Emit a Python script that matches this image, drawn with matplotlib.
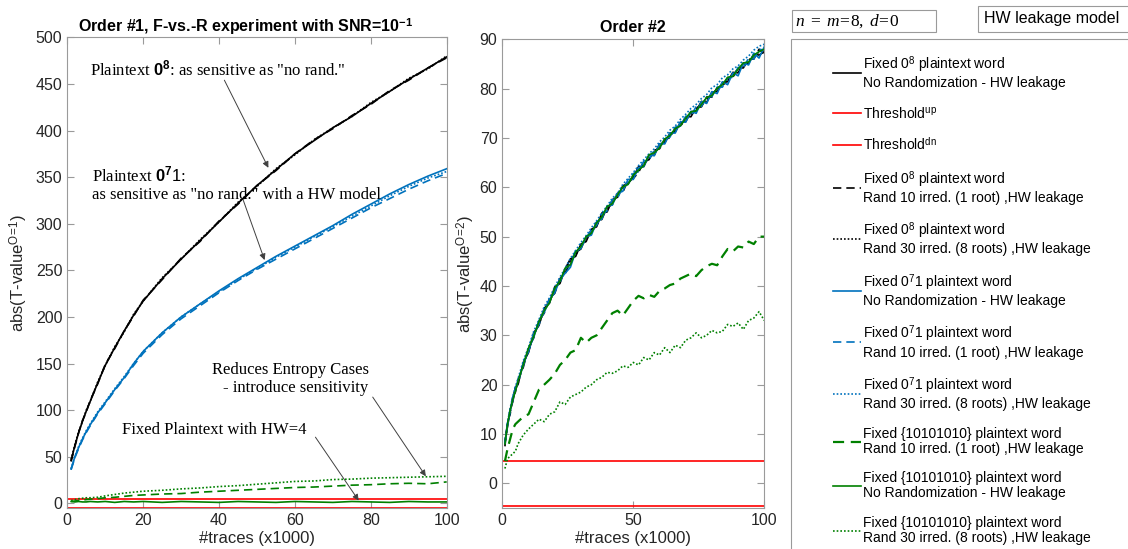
import matplotlib
matplotlib.use("Agg")
import matplotlib.pyplot as plt
from matplotlib.patches import Rectangle

plt.rcParams['font.family'] = ['Liberation Sans', 'DejaVu Sans']
plt.rcParams['mathtext.fontset'] = 'custom'
plt.rcParams['mathtext.rm'] = 'Liberation Serif'
plt.rcParams['mathtext.it'] = 'Liberation Serif:italic'
plt.rcParams['mathtext.bf'] = 'Liberation Sans:bold'
plt.rcParams['mathtext.sf'] = 'Liberation Sans'

# ---- data: order 1 (left panel) ----
o1_x = [1, 2, 3, 4, 5, 6, 8, 10, 12.5, 15, 17.5, 20, 25, 30, 35, 40, 45, 50, 55, 60, 65, 70, 75, 80, 85, 90, 95, 100]
o1_black = [46, 62, 76, 88, 99, 109, 129, 148, 167, 185, 202, 217, 241, 262, 282, 302, 322, 341, 358, 375, 389, 403, 415, 429, 442, 455, 467, 479]
o1_black_dash = [45, 61, 76, 89, 98, 110, 128, 149, 166, 185, 201, 218, 240, 263, 281, 303, 321, 341, 357, 375, 390, 402, 416, 428, 443, 454, 467, 478]
o1_black_dot = [47, 63, 77, 88, 100, 109, 130, 148, 168, 184, 203, 217, 242, 262, 283, 302, 323, 340, 359, 374, 390, 403, 415, 430, 442, 456, 466, 480]
o1_blue = [37, 50, 60, 69, 77, 84, 97, 108, 122, 135, 150, 163, 183, 200, 214, 228, 241, 253, 265, 276, 287, 298, 310, 321, 332, 342, 351, 359]
o1_blue_dash = [36, 49, 59, 68, 76, 83, 96, 107, 121, 134, 148, 161, 181, 198, 212, 226, 239, 251, 262, 273, 284, 295, 306, 317, 327, 337, 346, 354]
o1_blue_dot = [37, 50, 61, 70, 78, 85, 98, 109, 123, 136, 150, 163, 183, 200, 214, 227, 240, 252, 264, 275, 286, 297, 308, 319, 330, 340, 349, 356]
o1_green_dash = [2, 2.5, 3, 3.5, 4, 4.5, 5, 6, 6.5, 7.5, 8.5, 9, 10, 10.5, 12, 13, 14, 15, 16, 17, 17.5, 18.5, 19.5, 20, 21, 21.5, 21, 23]
o1_green = [2, 1.5, 2, 1.5, 1.5, 2, 1.5, 2, 1, 2, 1.5, 2, 1, 2, 1.5, 1, 2, 1.5, 1, 2, 1.5, 1, 2, 1.5, 1, 2, 1.5, 1.5]
o1_green_dot = [3, 4, 5, 5.5, 6, 6, 6.5, 8, 9.5, 11, 12, 13, 14, 15.5, 16.5, 18, 19, 20.5, 22, 23.5, 24, 25.5, 26, 27, 27.5, 28, 28.5, 29]

thr_x = [0, 100]
thr_up = [4.5, 4.5]
thr_dn = [-4.5, -4.5]

# ---- data: order 2 (right panel) ----
o2_x = [1, 2, 3, 4, 5, 6, 8, 10, 12, 14, 16, 18, 20, 22, 24, 26, 28, 30, 32, 34, 36, 38, 40, 42, 44, 46, 48, 50,
        52, 54, 56, 58, 60, 62, 64, 66, 68, 70, 72, 74, 76, 78, 80, 82, 84, 86, 88, 90, 92, 94, 96, 98, 100]
o2_black = [8.5, 11.5, 15, 16.5, 19.5, 20, 24.5, 26.5, 30.5, 32, 35.5, 36.5, 39.8, 40.5, 43.5, 45.5, 46, 48.5, 49, 51.5,
            52, 54.8, 55, 57.5, 58, 60.3, 60.8, 62, 64.2, 64.2, 66.5, 66.5, 68.8, 69, 71, 71.2, 73.2, 73.3, 75.3, 75.5,
            77.4, 77.2, 79.3, 79.4, 81.2, 81.4, 83.3, 83.2, 85.2, 85.1, 87, 86.8, 87.5]
o2_black_dash = [7.5, 12.5, 14, 17.5, 18.5, 21, 23.5, 27.5, 29.5, 33, 34.5, 37.5, 38.5, 41.5, 42.5, 45, 46.8, 47.5, 50,
                 50.5, 53, 53.5, 56, 56.5, 58.8, 59, 61.5, 61.8, 63, 65.2, 65.6, 67.5, 67.8, 69.8, 70, 72, 72.3, 74.3,
                 74.3, 76.2, 76.3, 78.3, 78.3, 80.2, 80.3, 82.2, 82.3, 84.2, 84.2, 86, 86, 88, 87]
o2_black_dot = [8, 12.3, 14.3, 17.2, 19.2, 20.3, 24.2, 26.8, 30.2, 32.3, 35.2, 36.8, 39.2, 41.2, 42.8, 45, 46.3, 48.2,
                49.3, 51.2, 52.3, 54.2, 55.3, 57.2, 58.1, 59.8, 60.8, 62.4, 63.3, 64.9, 65.8, 67.2, 68, 69.6, 70.3, 71.8,
                72.5, 74, 74.6, 76, 76.6, 78, 78.6, 80, 80.6, 82, 82.6, 84, 84.5, 85.8, 86.3, 87.5, 87.8]
o2_blue = [8.2, 11.8, 14.5, 17.5, 18.8, 21, 23.8, 27.2, 29.6, 33, 34.6, 37.3, 38.6, 41.3, 42.6, 43.8, 47, 47.6, 50,
           50.3, 53, 53.6, 56.2, 56.4, 58.8, 59.2, 61.6, 61.6, 64, 64.2, 66.6, 66.4, 68.8, 68.8, 71, 71, 73.3, 73.2,
           75.4, 75, 77.4, 77, 79.4, 79, 81.4, 80.8, 83.2, 82.6, 85.2, 84.8, 87.2, 86.2, 88.5]
o2_blue_dash = [8, 12.2, 14.8, 16.8, 19.3, 20.3, 24.3, 26.7, 30.4, 32.2, 35.3, 36.7, 39.4, 40.7, 43.4, 44.4, 47.2, 47.8,
                49.8, 51.3, 52.3, 54.6, 55.2, 57.5, 57.8, 60.2, 60.6, 62.8, 63.2, 65.3, 65.6, 67.5, 68, 69.8, 70.2, 72.2,
                72.4, 74.4, 74.4, 76.4, 76.4, 78.4, 78.4, 80.3, 80.3, 82.2, 82.3, 84.3, 84.2, 86.2, 86, 88, 87.8]
o2_blue_dot = [8.3, 12.4, 15.2, 17.6, 19.6, 21.2, 24.8, 27.6, 30.8, 33.2, 35.8, 37.6, 39.8, 41.8, 43.6, 45.6, 47.2, 48.8,
               50.2, 51.8, 53.2, 54.8, 56.2, 57.8, 58.8, 60.6, 61.8, 63, 64.4, 65.6, 66.8, 67.8, 69.2, 70.2, 71.6, 72.4,
               73.8, 74.8, 76, 76.8, 78, 78.8, 80.2, 80.8, 82.2, 82.8, 84, 84.6, 85.8, 86.6, 87.8, 88.6, 89]
o2_green = [8, 12, 14.8, 17, 18.7, 20.7, 24, 27.4, 29.8, 32.8, 35, 36.6, 39.5, 41, 43.6, 44.3, 46.9, 48, 50, 50.7, 52.8,
            54, 56.1, 56.7, 58.5, 60.1, 60.6, 62.5, 63.5, 64.4, 66.6, 67, 68, 69.8, 70.5, 71.9, 72.5, 74, 75.3, 75.5,
            76.8, 78.2, 78.6, 80.1, 80.8, 82.3, 82.5, 84, 85.2, 85.4, 86.8, 87.5, 88]
o2_green_dash = [4.5, 7, 9, 11, 12, 12.5, 13.5, 14, 16.5, 19, 20, 21, 22.2, 24, 25, 26.5, 27, 29.5, 28.5, 29.5, 30, 31.5,
                 33, 34.5, 35, 34, 35.5, 37, 38, 37.5, 38.2, 37.8, 39, 39.5, 40.2, 40.5, 41.5, 42, 42.5, 42, 43.2, 44,
                 44.5, 44.2, 46, 47.5, 47, 48, 47.8, 49, 48.5, 50, 50]
o2_green_dot = [3, 5, 5.5, 6, 6.5, 8, 9.8, 11, 12, 13, 12.5, 14, 14.5, 16.5, 16, 17.5, 18, 18.5, 19.5, 20, 21, 21.5, 22.5,
                22.3, 22.8, 23.8, 23.5, 24.5, 24, 25.5, 25, 26.5, 26, 27.5, 26.5, 28, 27.5, 29, 29.5, 30.5, 29.5, 30, 31,
                30.5, 30.8, 32.2, 31.8, 32.5, 31.2, 33, 33.5, 34.8, 33]

labels = [
    'Fixed 0$^{\\mathsf{8}}$ plaintext word\nNo Randomization - HW leakage',
    'Threshold$^{\\mathsf{up}}$',
    'Threshold$^{\\mathsf{dn}}$',
    'Fixed 0$^{\\mathsf{8}}$ plaintext word\nRand 10 irred. (1 root) ,HW leakage',
    'Fixed 0$^{\\mathsf{8}}$ plaintext word\nRand 30 irred. (8 roots) ,HW leakage',
    'Fixed 0$^{\\mathsf{7}}$1 plaintext word\nNo Randomization - HW leakage',
    'Fixed 0$^{\\mathsf{7}}$1 plaintext word\nRand 10 irred. (1 root) ,HW leakage',
    'Fixed 0$^{\\mathsf{7}}$1 plaintext word\nRand 30 irred. (8 roots) ,HW leakage',
    'Fixed {10101010} plaintext word\nRand 10 irred. (1 root) ,HW leakage',
    'Fixed {10101010} plaintext word\nNo Randomization - HW leakage',
    'Fixed {10101010} plaintext word\nRand 30 irred. (8 roots) ,HW leakage',
]

BLACK = 'black'
RED = '#ff0000'
BLUE = '#0072bd'
GREEN = '#008000'
DASH = (0, (5, 3))
DOT = (0, (1, 1.2))
GRAY = '#9a9a9a'

fig = plt.figure(figsize=(11.28, 5.49), dpi=100)
ax1 = fig.add_axes([67.3 / 1128, 1 - 508 / 549, 379.4 / 1128, (508 - 37.3) / 549])
ax2 = fig.add_axes([502.3 / 1128, 1 - 508 / 549, 262 / 1128, (508 - 39.3) / 549])


def style(ax):
    for s in ax.spines.values():
        s.set_color(GRAY)
        s.set_linewidth(0.8)
    ax.tick_params(direction='in', top=True, right=True, length=5, width=0.8,
                   color=GRAY, labelcolor='#262626', labelsize=11.5)
    ax.set_xlim(0, 100)
    ax.set_xlabel('#traces (x1000)', fontsize=12, color='#262626', labelpad=2)


# left panel
lw = 1.2
ax1.plot(o1_x, o1_black, color=BLACK, lw=lw)
ax1.plot(thr_x, thr_up, color=RED, lw=lw)
ax1.plot(thr_x, thr_dn, color=RED, lw=lw)
ax1.plot(o1_x, o1_black_dash, color=BLACK, lw=lw, ls=DASH)
ax1.plot(o1_x, o1_black_dot, color=BLACK, lw=lw, ls=DOT)
ax1.plot(o1_x, o1_blue, color=BLUE, lw=lw)
ax1.plot(o1_x, o1_blue_dash, color=BLUE, lw=lw, ls=DASH)
ax1.plot(o1_x, o1_blue_dot, color=BLUE, lw=lw, ls=DOT)
ax1.plot(o1_x, o1_green_dash, color=GREEN, lw=lw, ls=DASH)
ax1.plot(o1_x, o1_green, color=GREEN, lw=lw)
ax1.plot(o1_x, o1_green_dot, color=GREEN, lw=lw, ls=DOT)
style(ax1)
ax1.set_ylim(-5, 500)
ax1.set_xticks([0, 20, 40, 60, 80, 100])
ax1.set_yticks(range(0, 501, 50))
ax1.set_ylabel('abs(T-value$^{\\mathsf{O\\!=\\!1}}$)', fontsize=12, color='#262626')
ax1.set_title('Order #1, F-vs.-R experiment with SNR=10$^{\\mathbf{-1}}$',
              fontsize=11.5, fontweight='bold', x=0.47, pad=4)

# annotations (left)
serif = 'Liberation Serif'
arrow = dict(arrowstyle='-|>', color='#404040', lw=0.7, mutation_scale=9, shrinkA=0, shrinkB=0)
ax1.text(6, 465, 'Plaintext $\\mathbf{0^8}$: as sensitive as "no rand."', family=serif,
         fontsize=12, va='center', ha='left')
ax1.annotate('', xy=(53, 360), xytext=(41.4, 454), arrowprops=arrow)
ax1.text(6.4, 342, 'Plaintext $\\mathbf{0^7}\\mathsf{1}$:\nas sensitive as "no rand." with a HW model',
         family=serif, fontsize=12, va='center', ha='left', linespacing=1.15)
ax1.annotate('', xy=(52, 261), xytext=(46.4, 325), arrowprops=arrow)
ax1.text(79.4, 133, 'Reduces Entropy Cases\n- introduce sensitivity', family=serif, fontsize=12,
         va='center', ha='right', multialignment='right', linespacing=1.15)
ax1.annotate('', xy=(94.5, 29), xytext=(80.5, 114), arrowprops=arrow)
ax1.text(14.5, 79, 'Fixed Plaintext with HW=4', family=serif, fontsize=12, va='center', ha='left')
ax1.annotate('', xy=(76.8, 3), xytext=(65.4, 71), arrowprops=arrow)

# right panel
handles = []
handles += ax2.plot(o2_x, o2_black, color=BLACK, lw=lw)
handles += ax2.plot(thr_x, thr_up, color=RED, lw=lw)
handles += ax2.plot(thr_x, thr_dn, color=RED, lw=lw)
handles += ax2.plot(o2_x, o2_black_dash, color=BLACK, lw=lw, ls=DASH)
handles += ax2.plot(o2_x, o2_black_dot, color=BLACK, lw=lw, ls=DOT)
handles += ax2.plot(o2_x, o2_blue, color=BLUE, lw=lw)
handles += ax2.plot(o2_x, o2_blue_dash, color=BLUE, lw=lw, ls=DASH)
handles += ax2.plot(o2_x, o2_blue_dot, color=BLUE, lw=lw, ls=DOT)
handles += ax2.plot(o2_x, o2_green_dash, color=GREEN, lw=1.6, ls=DASH)
handles += ax2.plot(o2_x, o2_green, color=GREEN, lw=lw)
handles += ax2.plot(o2_x, o2_green_dot, color=GREEN, lw=lw, ls=DOT)
style(ax2)
ax2.set_ylim(-5, 90)
ax2.set_xticks([0, 50, 100])
ax2.set_yticks(range(0, 91, 10))
ax2.set_ylabel('abs(T-value$^{\\mathsf{O\\!=\\!2}}$)', fontsize=12, color='#262626', labelpad=2)
ax2.set_title('Order #2', fontsize=11.5, fontweight='bold', pad=5)

# legend panel
leg = fig.legend(handles, labels, loc='upper left', bbox_to_anchor=(833 / 1128, 1 - 54 / 549),
                 frameon=False, fontsize=10, borderpad=0, borderaxespad=0,
                 handlelength=2.0, handletextpad=0.15, labelspacing=1.12)
for t in leg.get_texts():
    t.set_linespacing(1.1)
fig.add_artist(Rectangle((791 / 1128, -0.05), 0.4, 1.05 - 39 / 549, transform=fig.transFigure,
                         fill=False, edgecolor=GRAY, lw=0.8, clip_on=False))

# info boxes at top
fig.add_artist(Rectangle((791.7 / 1128, 1 - 31.7 / 549), (936 - 791.7) / 1128, 21.7 / 549,
                         transform=fig.transFigure, facecolor='white', edgecolor=GRAY, lw=0.8))
fig.text(795 / 1128, 1 - 21 / 549, '$n\\ =\\ m\\!=\\!8,\\ d\\!=\\!0$', fontsize=12.5,
         va='center', ha='left')
fig.add_artist(Rectangle((978 / 1128, 1 - 31.7 / 549), 0.2, 25.7 / 549,
                         transform=fig.transFigure, facecolor='white', edgecolor=GRAY, lw=0.8, clip_on=False))
fig.text(984 / 1128, 1 - 19 / 549, 'HW leakage model', fontsize=11.5, va='center', ha='left')

fig.savefig('out.png', dpi=100)
